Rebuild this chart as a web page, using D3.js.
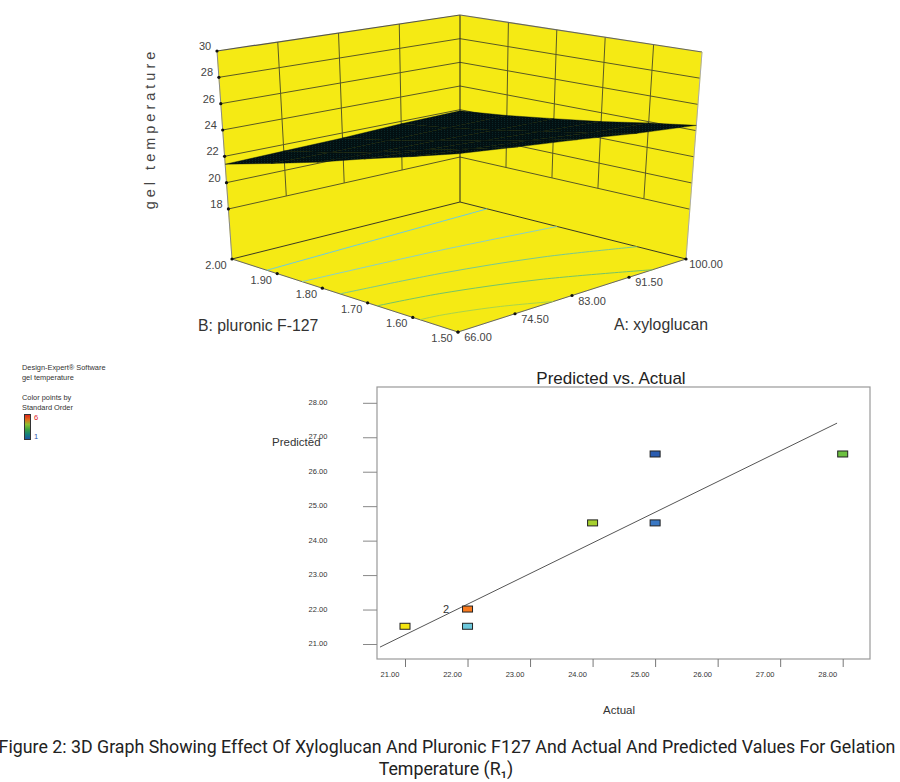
<!DOCTYPE html>
<html><head><meta charset="utf-8">
<script src="https://cdn.jsdelivr.net/npm/d3@7"></script>
<style>html,body{margin:0;padding:0;background:#fff}svg{display:block}text{font-family:"Liberation Sans",Arial,sans-serif}</style>
</head><body><div id="c"></div>
<script>
// ---------- data ----------
const aTicks=[66,74.5,83,91.5,100];
const bTicks=[2,1.9,1.8,1.7,1.6,1.5];
const zTicks=[18,20,22,24,26,28,30];
const zFloor=14.2;
// response surface read at the a (rows) / b (columns) ticks
const surfaceA=[66,74.5,83,91.5,100];
const surfaceB=[1.5,1.6,1.7,1.8,1.9,2];
const surfaceZ=[
 [26.5,25.5,24.5,23.4,22.4,21.4],
 [26.0,25.1,24.2,23.2,22.3,21.5],
 [25.5,24.7,23.9,23.1,22.3,21.6],
 [24.9,24.2,23.6,22.9,22.3,21.8],
 [24.4,23.9,23.3,22.8,22.3,21.9]];
// contour lines on the floor as [a,b]
const contours=[
 {color:"#6ccbe0",pts:[[66,1.923],[80,1.93],[100,1.94]]},
 {color:"#86d0c8",pts:[[66,1.845],[85,1.82],[100,1.785]]},
 {color:"#78c890",pts:[[66,1.761],[79,1.73],[90.5,1.68],[100,1.608]]},
 {color:"#74c468",pts:[[66,1.679],[73.8,1.656],[84.7,1.596],[95,1.5]]},
 {color:"#a8d44c",pts:[[66,1.584],[68.5,1.578],[74.8,1.545],[80.2,1.5]]}];
const actual=[21,22,22,24,25,25,28];
const predicted=[21.5,22,21.5,24.5,24.5,26.5,26.5];
const pointColors=["#f4e611","#f97a1e","#6cc8dc","#a6d02e","#3a78c4","#2a5cb0","#6cc040"];
const fitActual=[20.6,27.91];
const fitPredicted=[20.91,27.41];
const xTicks=[21,22,23,24,25,26,27,28];
const yTicks=[21,22,23,24,25,26,27,28];
const legendLines=["Design-Expert® Software","gel temperature","","Color points by","Standard Order"];
const legendStops=["#e0201c","#e06a1c","#8cc030","#3ca040","#14807c","#1c50a8"];
const captionLines=["Figure 2: 3D Graph Showing Effect Of Xyloglucan And Pluronic F127 And Actual And Predicted Values For Gelation","Temperature (R₁)"];

// ---------- svg ----------
const svg=d3.select("#c").append("svg").attr("width",900).attr("height",782);

// 3D projection: trilinear scales between the box's corners
const ua=d3.scaleLinear().domain([66,100]).range([0,1]);
const vb=d3.scaleLinear().domain([1.5,2]).range([0,1]);
const wz=d3.scaleLinear().domain([zFloor,30]).range([0,1]);
const box={
 f0:[458,332],r0:[686,259],l0:[232,259],b0:[460,202],
 f1:[458,103],r1:[702,52],l1:[217,51],b1:[460,15]};
function proj(a,b,z){
 const u=ua(a),v=vb(b),w=wz(z);
 const mix=(i)=>{
  const lo=(1-u)*(1-v)*box.f0[i]+u*(1-v)*box.r0[i]+(1-u)*v*box.l0[i]+u*v*box.b0[i];
  const hi=(1-u)*(1-v)*box.f1[i]+u*(1-v)*box.r1[i]+(1-u)*v*box.l1[i]+u*v*box.b1[i];
  return lo*(1-w)+hi*w;};
 return [mix(0),mix(1)];
}
const poly=pts=>pts.map(p=>p.join(",")).join(" ");
const g3=svg.append("g");
const yellow="#f5ea14";
const aMin=66,aMax=100,bMin=1.5,bMax=2,zMax=30;
[[[aMin,bMax,zFloor],[aMax,bMax,zFloor],[aMax,bMax,zMax],[aMin,bMax,zMax]],
 [[aMax,bMax,zFloor],[aMax,bMin,zFloor],[aMax,bMin,zMax],[aMax,bMax,zMax]],
 [[aMin,bMin,zFloor],[aMax,bMin,zFloor],[aMax,bMax,zFloor],[aMin,bMax,zFloor]]]
 .forEach(q=>g3.append("polygon").attr("points",poly(q.map(p=>proj(...p)))).attr("fill",yellow).attr("stroke",yellow).attr("stroke-width",.5));
const seg=(p,q,c,w)=>{const A=proj(...p),B=proj(...q);g3.append("line").attr("x1",A[0]).attr("y1",A[1]).attr("x2",B[0]).attr("y2",B[1]).attr("stroke",c).attr("stroke-width",w);};
const gridC="#5a5a24";
zTicks.forEach(z=>{ if(z===30)return; seg([aMin,bMax,z],[aMax,bMax,z],gridC,1); seg([aMax,bMax,z],[aMax,bMin,z],gridC,1);});
aTicks.slice(1,4).forEach(a=>seg([a,bMax,18],[a,bMax,zMax],gridC,1));
bTicks.slice(1,5).forEach(b=>seg([aMax,b,18],[aMax,b,zMax],gridC,1));
seg([aMax,bMax,zFloor],[aMax,bMax,zMax],"#222",1);
seg([aMin,bMax,zMax],[aMax,bMax,zMax],"#555",1.2);
seg([aMax,bMax,zMax],[aMax,bMin,zMax],"#666",1.2);
seg([aMin,bMax,zFloor],[aMin,bMax,zMax],"#888",1);
seg([aMax,bMin,zFloor],[aMax,bMin,zMax],"#aaa",1);
seg([aMin,bMax,zFloor],[aMax,bMax,zFloor],"#3a3a20",1);
seg([aMax,bMax,zFloor],[aMax,bMin,zFloor],"#3a3a20",1);
seg([aMin,bMin,zFloor],[aMax,bMin,zFloor],"#666",1);
seg([aMin,bMin,zFloor],[aMin,bMax,zFloor],"#666",1);
// contours
const cl=d3.line().curve(d3.curveCatmullRom);
contours.forEach(c=>g3.append("path").attr("d",cl(c.pts.map(p=>proj(p[0],p[1],zFloor)))).attr("fill","none").attr("stroke",c.color).attr("stroke-width",1));
// surface
const defs=svg.append("defs");
const pat=defs.append("pattern").attr("id","mesh").attr("width",3).attr("height",2).attr("patternUnits","userSpaceOnUse");
pat.append("rect").attr("width",3).attr("height",2).attr("fill","#031012");
pat.append("rect").attr("width",1).attr("height",1).attr("fill","#082628");
surfaceA.slice(1).forEach((_,i)=>surfaceB.slice(1).forEach((_,j)=>{
 const q=[[i,j],[i+1,j],[i+1,j+1],[i,j+1]].map(([r,c])=>proj(surfaceA[r],surfaceB[c],surfaceZ[r][c]));
 g3.append("polygon").attr("points",poly(q)).attr("fill","url(#mesh)").attr("stroke","#031012").attr("stroke-width",.4);
}));
// ticks and labels
const tickText=(x,y,t,anchor="middle",size=11)=>g3.append("text").attr("x",x).attr("y",y).attr("text-anchor",anchor).attr("font-size",size).attr("fill","#444").text(t);
const dot=(p)=>g3.append("circle").attr("cx",p[0]).attr("cy",p[1]).attr("r",1.6).attr("fill","#111");
zTicks.forEach(z=>{const p=proj(aMin,bMax,z);dot(p);tickText(p[0]-12,p[1]-1,z);});
bTicks.forEach(b=>{const p=proj(aMin,b,zFloor);dot(p);tickText(p[0]-16,p[1]+10,b.toFixed(2));});
aTicks.forEach(a=>{const p=proj(a,bMin,zFloor);dot(p);tickText(p[0]+20,p[1]+9,a.toFixed(2));});
svg.append("text").attr("transform","translate(155,128.5) rotate(-90)").attr("text-anchor","middle").attr("font-size",14.5).attr("letter-spacing",4).attr("fill","#444").text("gel temperature");
svg.append("text").attr("x",198).attr("y",331).attr("font-size",15.8).attr("fill","#333").text("B: pluronic F-127");
svg.append("text").attr("x",614).attr("y",330).attr("font-size",15.8).attr("fill","#333").text("A: xyloglucan");

// ---------- predicted vs actual ----------
const x=d3.scaleLinear().domain([21,28]).range([405,842.7]);
const y=d3.scaleLinear().domain([21,28]).range([644,402.8]);
const frame={l:377,t:387,r:870,b:659};
svg.append("rect").attr("x",frame.l).attr("y",frame.t).attr("width",frame.r-frame.l).attr("height",frame.b-frame.t).attr("fill","#fff").attr("stroke","#999").attr("stroke-width",1.2);
const gx=svg.append("g").attr("transform",`translate(0,${frame.b})`).call(d3.axisBottom(x).tickValues(xTicks).tickSize(8).tickFormat(()=>""));
gx.select(".domain").remove();gx.selectAll("line").attr("stroke","#777");
const gy=svg.append("g").attr("transform",`translate(${frame.l},0)`).call(d3.axisLeft(y).tickValues(yTicks).tickSize(14).tickFormat(()=>""));
gy.select(".domain").remove();gy.selectAll("line").attr("stroke","#888");
xTicks.forEach(t=>svg.append("text").attr("x",x(t)-15).attr("y",676.5).attr("text-anchor","middle").attr("font-size",7.5).attr("fill","#333").text(t.toFixed(2)));
yTicks.forEach(t=>svg.append("text").attr("x",318).attr("y",y(t)+2).attr("text-anchor","middle").attr("font-size",7.5).attr("fill","#333").text(t.toFixed(2)));
svg.append("line").attr("x1",x(fitActual[0])).attr("y1",y(fitPredicted[0])).attr("x2",x(fitActual[1])).attr("y2",y(fitPredicted[1])).attr("stroke","#555").attr("stroke-width",1);
svg.selectAll("rect.pt").data(actual).enter().append("rect").attr("class","pt")
 .attr("x",d=>x(d)-5).attr("y",(d,i)=>y(predicted[i])-3.5).attr("width",10).attr("height",6)
 .attr("fill",(d,i)=>pointColors[i]).attr("stroke","#222").attr("stroke-width",1);
svg.append("text").attr("x",446).attr("y",612.5).attr("text-anchor","middle").attr("font-size",11).attr("fill","#333").text("2");
svg.append("text").attr("x",611).attr("y",384).attr("text-anchor","middle").attr("font-size",17).attr("fill","#222").text("Predicted vs. Actual");
svg.append("text").attr("x",272).attr("y",446).attr("font-size",11.5).attr("fill","#333").text("Predicted");
svg.append("text").attr("x",619).attr("y",714).attr("text-anchor","middle").attr("font-size",11.5).attr("fill","#333").text("Actual");

// legend
const lg=svg.append("g");
legendLines.forEach((t,i)=>lg.append("text").attr("x",22).attr("y",370+i*10).attr("font-size",7.4).attr("fill","#333").text(t));
const grad=defs.append("linearGradient").attr("id","lg").attr("x1",0).attr("x2",0).attr("y1",0).attr("y2",1);
legendStops.forEach((c,i)=>grad.append("stop").attr("offset",i/(legendStops.length-1)).attr("stop-color",c));
lg.append("rect").attr("x",24.5).attr("y",414.5).attr("width",6).attr("height",25).attr("fill","url(#lg)").attr("stroke","#333").attr("stroke-width",1);
lg.append("text").attr("x",34).attr("y",420).attr("font-size",7.5).attr("fill","#e0201c").text("6");
lg.append("text").attr("x",34).attr("y",439).attr("font-size",7.5).attr("fill","#2a50a8").text("1");

// caption
captionLines.forEach((t,i)=>svg.append("text").attr("x",i?446:447).attr("y",753+i*22).attr("text-anchor","middle")
 .style("font-family",'Roboto,sans-serif').attr("font-size",17.8).attr("fill","#222").text(t));
</script></body></html>
